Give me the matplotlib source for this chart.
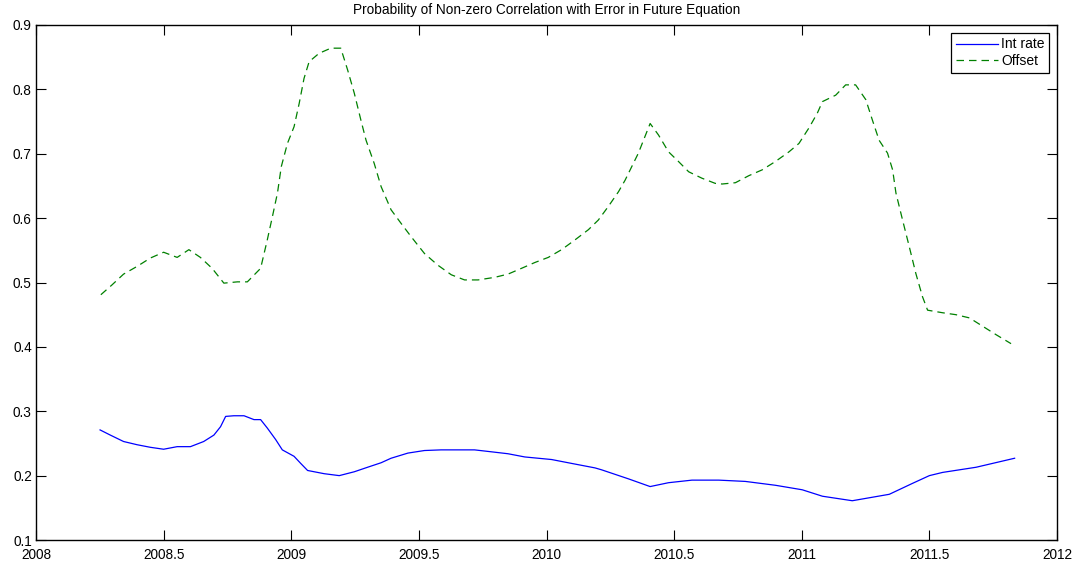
import matplotlib
matplotlib.use("Agg")
import matplotlib.pyplot as plt

plt.rcParams['font.family'] = ['Liberation Sans', 'DejaVu Sans']

# Int rate series
x_int = [2008.251, 2008.291, 2008.343, 2008.396, 2008.448, 2008.500, 2008.553, 2008.605,
         2008.657, 2008.697, 2008.723, 2008.743, 2008.775, 2008.815, 2008.854, 2008.880,
         2008.906, 2008.939, 2008.965, 2009.011, 2009.037, 2009.064, 2009.129, 2009.188,
         2009.247, 2009.299, 2009.352, 2009.391, 2009.457, 2009.522, 2009.587, 2009.653,
         2009.718, 2009.784, 2009.849, 2009.915, 2010.020, 2010.098, 2010.190, 2010.216,
         2010.321, 2010.406, 2010.478, 2010.570, 2010.675, 2010.779, 2010.897, 2011.002,
         2011.081, 2011.198, 2011.343, 2011.434, 2011.500, 2011.552, 2011.683, 2011.834]
int_rate = [0.271, 0.263, 0.253, 0.248, 0.244, 0.241, 0.245, 0.245,
            0.253, 0.263, 0.276, 0.292, 0.293, 0.293, 0.287, 0.287,
            0.274, 0.256, 0.240, 0.230, 0.219, 0.208, 0.203, 0.200,
            0.206, 0.213, 0.220, 0.227, 0.235, 0.239, 0.240, 0.240,
            0.240, 0.237, 0.234, 0.229, 0.225, 0.219, 0.212, 0.209,
            0.195, 0.183, 0.189, 0.193, 0.193, 0.191, 0.185, 0.178,
            0.168, 0.161, 0.171, 0.188, 0.200, 0.205, 0.213, 0.227]

# Offset series
x_off = [2008.254, 2008.297, 2008.343, 2008.396, 2008.448, 2008.500, 2008.553, 2008.599,
         2008.644, 2008.690, 2008.736, 2008.789, 2008.828, 2008.880, 2008.906, 2008.926,
         2008.946, 2008.961, 2008.985, 2009.011, 2009.031, 2009.050, 2009.070, 2009.109,
         2009.155, 2009.194, 2009.221, 2009.247, 2009.273, 2009.293, 2009.325, 2009.352,
         2009.391, 2009.430, 2009.470, 2009.522, 2009.574, 2009.627, 2009.679, 2009.732,
         2009.797, 2009.849, 2009.902, 2009.954, 2010.007, 2010.059, 2010.111, 2010.164,
         2010.203, 2010.242, 2010.282, 2010.308, 2010.334, 2010.360, 2010.386, 2010.406,
         2010.439, 2010.478, 2010.517, 2010.557, 2010.609, 2010.661, 2010.688, 2010.740,
         2010.793, 2010.845, 2010.897, 2010.950, 2010.989, 2011.028, 2011.061, 2011.081,
         2011.133, 2011.172, 2011.211, 2011.251, 2011.277, 2011.303, 2011.336, 2011.356,
         2011.369, 2011.395, 2011.421, 2011.447, 2011.473, 2011.493, 2011.552, 2011.604,
         2011.657, 2011.709, 2011.761, 2011.820]
offset = [0.481, 0.496, 0.513, 0.525, 0.538, 0.547, 0.539, 0.551,
          0.539, 0.522, 0.499, 0.501, 0.501, 0.522, 0.566, 0.602,
          0.639, 0.680, 0.716, 0.742, 0.778, 0.817, 0.843, 0.856,
          0.864, 0.864, 0.830, 0.794, 0.752, 0.721, 0.685, 0.649,
          0.613, 0.592, 0.571, 0.545, 0.527, 0.512, 0.504, 0.504,
          0.508, 0.513, 0.522, 0.531, 0.539, 0.551, 0.566, 0.582,
          0.597, 0.618, 0.641, 0.659, 0.680, 0.701, 0.727, 0.747,
          0.729, 0.703, 0.688, 0.672, 0.662, 0.654, 0.653, 0.655,
          0.666, 0.675, 0.688, 0.703, 0.716, 0.740, 0.763, 0.781,
          0.791, 0.807, 0.807, 0.784, 0.752, 0.721, 0.701, 0.675,
          0.639, 0.597, 0.556, 0.514, 0.478, 0.457, 0.453, 0.450,
          0.445, 0.432, 0.419, 0.405]

xticks = [2008, 2008.5, 2009, 2009.5, 2010, 2010.5, 2011, 2011.5, 2012]
xticklabels = ['2008', '2008.5', '2009', '2009.5', '2010', '2010.5', '2011', '2011.5', '2012']
yticks = [0.1, 0.2, 0.3, 0.4, 0.5, 0.6, 0.7, 0.8, 0.9]
yticklabels = ['0.1', '0.2', '0.3', '0.4', '0.5', '0.6', '0.7', '0.8', '0.9']

fig = plt.figure(figsize=(10.88, 5.67), dpi=100)
ax = fig.add_axes([36 / 1088, 27 / 567, 1021 / 1088, 515 / 567])

ax.plot(x_int, int_rate, color='#0000ff', lw=0.9, label='Int rate')
ax.plot(x_off, offset, color='#008000', lw=0.9, ls=(0, (6, 4)), label='Offset')

ax.set_xlim(2008, 2012)
ax.set_ylim(0.1, 0.9)
ax.set_xticks(xticks)
ax.set_xticklabels(xticklabels)
ax.set_yticks(yticks)
ax.set_yticklabels(yticklabels)
ax.tick_params(direction='in', length=7, width=0.8, top=True, right=True,
               labelsize=9.8, colors='black')
ax.tick_params(axis='x', pad=6)
ax.tick_params(axis='y', pad=3)
for s in ax.spines.values():
    s.set_linewidth(1.0)
    s.set_color('black')

ax.set_title('Probability of Non-zero Correlation with Error in Future Equation',
             fontsize=9.8, pad=8)

leg = ax.legend(loc='upper right', fontsize=10, fancybox=False, edgecolor='black',
                framealpha=1, handlelength=3.0, handletextpad=0.25, borderpad=0.35,
                labelspacing=0.2, borderaxespad=0.55)
leg.get_frame().set_linewidth(0.9)

fig.savefig('out.png', dpi=100)
